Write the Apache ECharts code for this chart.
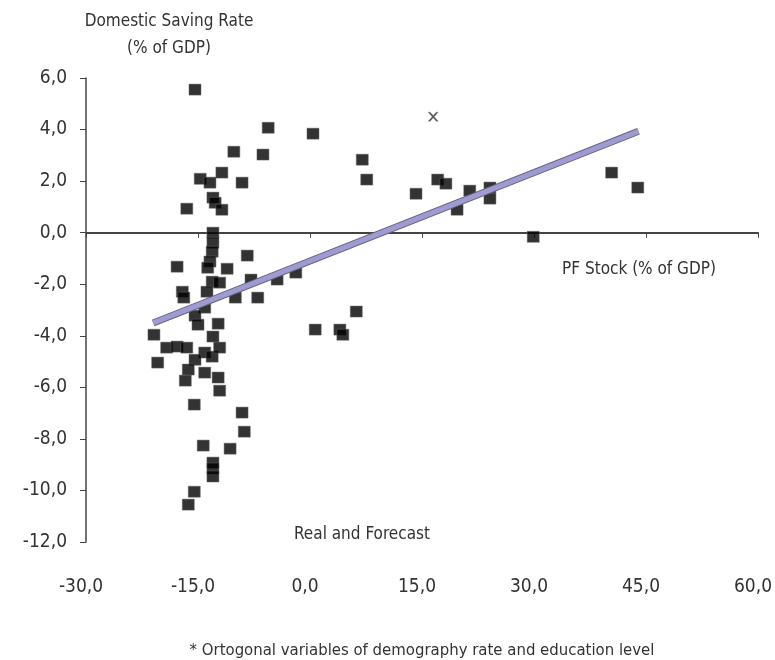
<!DOCTYPE html>
<html>
<head>
<meta charset="utf-8">
<script src="https://cdn.jsdelivr.net/npm/echarts@6/dist/echarts.min.js"></script>
<style>
  html, body { margin: 0; padding: 0; background: #fff; }
  #chart { width: 775px; height: 660px; }
</style>
</head>
<body>
<div id="chart"></div>
<script>
  // PF stock (% of GDP) vs domestic saving rate (% of GDP)
  var pfStock = [
      -15.4, -5.6, -10.2, -6.3, 0.4, 7.0, 7.6, 14.2, 17.1, 18.2,
      19.7, 21.4, 24.1, 24.1, 40.4, 43.9, 29.9, -11.8, -14.7, -13.4,
      -9.1, -16.5, -13.0, -12.7, -11.8, -13.0, -13.0, -13.1, -8.4, -17.8,
      -13.4, -13.7, -11.1, -13.1, -12.1, -7.9, -17.1, -16.9, -13.8, -10.0,
      -7.0, -14.1, -15.4, -15.0, -12.3, -20.9, -13.0, -19.2, -17.8, -16.5,
      -14.1, -13.1, -12.1, -15.4, -20.4, -16.3, -14.1, -12.3, -16.7, -12.1,
      -15.5, -9.1, -8.8, -14.3, -10.7, -13.0, -13.0, -13.0, -15.5, -16.3,
      -4.4, -1.9, 6.2, 0.7, 4.0, 4.4
  ]
  var savingRate = [
      5.55, 4.07, 3.14, 3.03, 3.84, 2.83, 2.06, 1.51, 2.06, 1.9,
      0.89, 1.63, 1.75, 1.32, 2.33, 1.75, -0.16, 2.33, 2.09, 1.94,
      1.94, 0.93, 1.36, 1.16, 0.89, 0.0, -0.39, -0.74, -0.89, -1.32,
      -1.12, -1.36, -1.4, -1.9, -1.94, -1.82, -2.29, -2.52, -2.29, -2.52,
      -2.52, -2.91, -3.22, -3.57, -3.53, -3.96, -4.03, -4.46, -4.42, -4.46,
      -4.65, -4.81, -4.46, -4.93, -5.04, -5.31, -5.43, -5.62, -5.74, -6.13,
      -6.67, -6.98, -7.72, -8.26, -8.38, -8.92, -9.15, -9.46, -10.05, -10.55,
      -1.82, -1.55, -3.06, -3.76, -3.76, -3.96
  ]
  // single point drawn with a cross marker
  var crossX = [16.5]
  var crossY = [4.5]
  // trend line end points
  var trendX = [-21.0, 44.0]
  var trendY = [-3.5, 3.93]

  var xTicks = [-30, 60, 15]
  var yTicks = [-12, 6, 2]

  var font = "'Liberation Sans Narrow', 'DejaVu Sans Condensed', sans-serif"
  var txtColor = '#333'

  function pairs(xs, ys) {
      var out = []
      for (var i = 0; i < xs.length; i++) {
          out.push([xs[i], ys[i]])
      }
      return out
  }

  function fmt(v) {
      return v.toFixed(1).replace('.', ',')
  }

  var myChart = echarts.init(document.getElementById('chart'))

  var option = {
      animation: false,
      backgroundColor: '#fff',
      grid: {
          left: 86,
          right: 17,
          top: 78,
          bottom: 118
      },
      xAxis: [{
          type: 'value',
          position: 'bottom',
          min: xTicks[0],
          max: xTicks[1],
          interval: xTicks[2],
          axisLine: { show: true, onZero: true, lineStyle: { color: '#444', width: 2 } },
          axisTick: { show: true, length: 5, lineStyle: { color: '#444' } },
          axisLabel: { show: false },
          splitLine: { show: false }
      }, {
          type: 'value',
          position: 'bottom',
          min: xTicks[0],
          max: xTicks[1],
          interval: xTicks[2],
          axisLine: { show: false, onZero: false },
          axisTick: { show: false },
          axisLabel: {
              margin: 36,
              color: txtColor,
              fontFamily: font,
              fontSize: 19,
              padding: [0, 10, 0, 0],
              formatter: fmt
          },
          splitLine: { show: false }
      }],
      yAxis: {
          type: 'value',
          min: yTicks[0],
          max: yTicks[1],
          interval: yTicks[2],
          axisLine: { show: true, onZero: false, lineStyle: { color: '#444', width: 1.5 } },
          axisTick: { show: true, length: 6, lineStyle: { color: '#444' } },
          axisLabel: {
              margin: 19,
              color: txtColor,
              fontFamily: font,
              fontSize: 19,
              formatter: fmt
          },
          splitLine: { show: false }
      },
      series: [{
          name: 'Real and Forecast',
          type: 'scatter',
          symbol: 'rect',
          symbolSize: [12, 11],
          itemStyle: { color: '#000', borderColor: '#666', borderWidth: 0.6 },
          data: pairs(pfStock, savingRate)
      }, {
          type: 'scatter',
          symbol: 'path://M0,0L2,0L5,3L8,0L10,0L6,4L10,8L8,8L5,5L2,8L0,8L4,4Z',
          symbolSize: [10, 9],
          itemStyle: { color: '#222', borderColor: '#888', borderWidth: 0.5 },
          data: pairs(crossX, crossY)
      }, {
          type: 'line',
          symbol: 'none',
          lineStyle: { color: '#6e5f7c', width: 7 },
          data: pairs(trendX, trendY),
          z: 3
      }, {
          type: 'line',
          symbol: 'none',
          lineStyle: { color: '#9c9cd2', width: 5 },
          data: pairs(trendX, trendY),
          z: 4
      }],
      graphic: [{
          type: 'text',
          x: 169, y: 22,
          style: { text: 'Domestic Saving Rate', fill: txtColor, font: '17px ' + font, textAlign: 'center', textVerticalAlign: 'middle' }
      }, {
          type: 'text',
          x: 169, y: 49,
          style: { text: '(% of GDP)', fill: txtColor, font: '17px ' + font, textAlign: 'center', textVerticalAlign: 'middle' }
      }, {
          type: 'text',
          x: 639, y: 270,
          style: { text: 'PF Stock (% of GDP)', fill: txtColor, font: '17px ' + font, textAlign: 'center', textVerticalAlign: 'middle' }
      }, {
          type: 'text',
          x: 362, y: 535,
          style: { text: 'Real and Forecast', fill: txtColor, font: '17px ' + font, textAlign: 'center', textVerticalAlign: 'middle' }
      }, {
          type: 'text',
          x: 422, y: 651,
          style: { text: '* Ortogonal variables of demography rate and education level', fill: txtColor, font: '16.6px ' + font, textAlign: 'center', textVerticalAlign: 'middle' }
      }]
  }
  myChart.setOption(option)
</script>
</body>
</html>
